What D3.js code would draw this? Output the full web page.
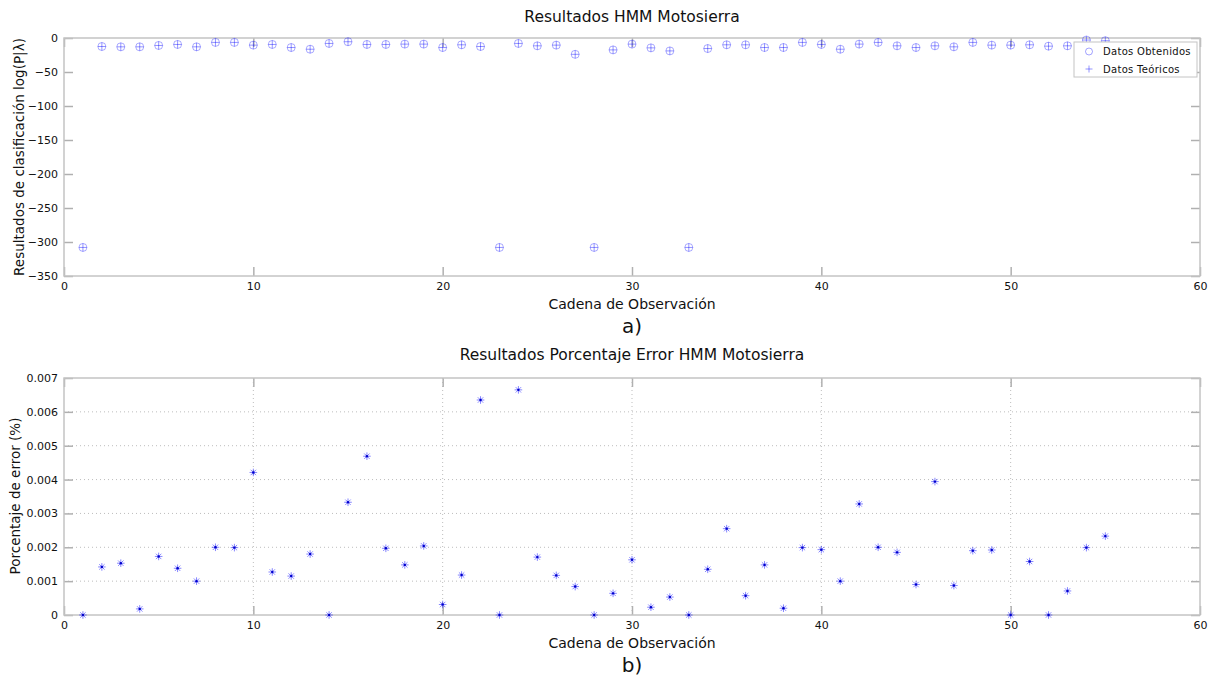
<!DOCTYPE html>
<html><head><meta charset="utf-8">
<script src="https://cdn.jsdelivr.net/npm/d3@7"></script>
<style>
body{margin:0;background:#fff;}
svg text{font-family:"DejaVu Sans",sans-serif;fill:#111;}
</style></head>
<body><svg id="c" width="1212" height="679"></svg>
<script>
// ---- data ----
const obs = d3.range(1, 56);
const logP = [-308,-12.5,-13,-13,-11,-9.5,-13,-6.5,-6.5,-10.5,-9.5,-14,-16.5,-8,-5.5,-9.5,-9.5,-9,-9,-14,-10,-12.5,-308,-8,-11.5,-10.5,-24,-308,-17.5,-9,-14.5,-19,-308,-15.5,-10,-10,-14,-14,-6.5,-9.5,-16.5,-9,-6.5,-11.5,-14,-11.5,-13,-6.5,-10.5,-10.5,-10,-12,-11.5,-3,-4];
const logPTeo = logP.slice();
const errPct = [0,0.00142,0.00153,0.00018,0.00173,0.00138,0.00100,0.00200,0.00199,0.00421,0.00127,0.00115,0.00180,0,0.00333,0.00469,0.00197,0.00148,0.00204,0.00031,0.00118,0.00635,0,0.00665,0.00171,0.00117,0.00084,0,0.00064,0.00163,0.00023,0.00053,0,0.00135,0.00255,0.00057,0.00148,0.00020,0.00199,0.00193,0.00100,0.00328,0.00200,0.00185,0.00090,0.00394,0.00087,0.00190,0.00192,0,0.00158,0,0.00071,0.00199,0.00233];
const xTicks = [0,10,20,30,40,50,60];
const yTicksA = [0,-50,-100,-150,-200,-250,-300,-350];
const yTicksB = [0,0.001,0.002,0.003,0.004,0.005,0.006,0.007];
const legendLabels = ["Datos Obtenidos","Datos Teóricos"];

const svg = d3.select("#c");
const L = 64, R = 1200;
const axisCol = "#c4c4c4";
const blue = "#0000ff";

function panel(top, bottom, yDomain, yTicks, grid, fmt) {
  const x = d3.scaleLinear().domain([0,60]).range([L,R]);
  const y = d3.scaleLinear().domain(yDomain).range([bottom, top]);
  const g = svg.append("g");
  if (grid) {
    g.selectAll(".gy").data(yTicks.slice(1,-1)).join("line")
      .attr("x1",L).attr("x2",R).attr("y1",d=>y(d)).attr("y2",d=>y(d))
      .attr("stroke","#bdbdbd").attr("stroke-width",1).attr("stroke-dasharray","1,3");
    g.selectAll(".gx").data(xTicks.slice(1,-1)).join("line")
      .attr("x1",d=>x(d)).attr("x2",d=>x(d)).attr("y1",top).attr("y2",bottom)
      .attr("stroke","#bdbdbd").attr("stroke-width",1).attr("stroke-dasharray","1,3");
  }
  const ts = -9;
  const ax = [
    g.append("g").attr("transform",`translate(0,${bottom})`).call(d3.axisBottom(x).tickValues(xTicks).tickSize(ts).tickPadding(6)),
    g.append("g").attr("transform",`translate(0,${top})`).call(d3.axisTop(x).tickValues(xTicks).tickSize(ts).tickFormat("")),
    g.append("g").attr("transform",`translate(${L},0)`).call(d3.axisLeft(y).tickValues(yTicks).tickSize(ts).tickPadding(6).tickFormat(fmt)),
    g.append("g").attr("transform",`translate(${R},0)`).call(d3.axisRight(y).tickValues(yTicks).tickSize(ts).tickFormat(""))
  ];
  ax.forEach(a => {
    a.select(".domain").remove();
    a.selectAll(".tick line").attr("stroke","#b0b0b0").attr("stroke-width",1.5);
    a.selectAll(".tick text").attr("font-size",11).attr("fill","#111").attr("font-family","DejaVu Sans");
  });
  g.append("rect").attr("x",L).attr("y",top).attr("width",R-L).attr("height",bottom-top)
    .attr("fill","none").attr("stroke",axisCol).attr("stroke-width",1.5);
  return {x, y, g};
}

// ---- panel a ----
const A = panel(38, 276, [-350,0], yTicksA, false, d3.format("d"));
A.g.selectAll(".circ").data(obs).join("circle")
  .attr("cx",d=>A.x(d)).attr("cy",(d,i)=>A.y(logP[i])).attr("r",4)
  .attr("fill","none").attr("stroke",blue).attr("stroke-width",0.6).attr("stroke-opacity",0.55);
A.g.selectAll(".plus").data(obs).join("path")
  .attr("d",(d,i)=>{const cx=A.x(d), cy=A.y(logPTeo[i]); return `M${cx-4},${cy}H${cx+4}M${cx},${cy-4}V${cy+4}`;})
  .attr("stroke",blue).attr("stroke-width",0.7).attr("stroke-opacity",0.6);

// legend
const lg = svg.append("g");
lg.append("rect").attr("x",1074).attr("y",42).attr("width",123).attr("height",35)
  .attr("fill","#fff").attr("stroke",axisCol).attr("stroke-width",1);
lg.append("circle").attr("cx",1089).attr("cy",51.5).attr("r",3.5).attr("fill","none").attr("stroke",blue).attr("stroke-width",0.6).attr("stroke-opacity",0.6);
lg.append("path").attr("d","M1085.5,69H1092.5M1089,65.5V72.5").attr("stroke",blue).attr("stroke-width",0.7).attr("stroke-opacity",0.6);
lg.selectAll("text").data(legendLabels).join("text")
  .attr("x",1103).attr("y",(d,i)=>55+i*18).attr("font-size",10).attr("letter-spacing",0.3).text(d=>d);

// titles panel a
svg.append("text").attr("x",632).attr("y",22).attr("text-anchor","middle").attr("font-size",15.5).text("Resultados HMM Motosierra");
svg.append("text").attr("transform","translate(24,157) rotate(-90)").attr("text-anchor","middle").attr("font-size",13.5).text("Resultados de clasificación log(P|λ)");
svg.append("text").attr("x",632).attr("y",309).attr("text-anchor","middle").attr("font-size",14).text("Cadena de Observación");
svg.append("text").attr("x",632).attr("y",333).attr("text-anchor","middle").attr("font-size",20).text("a)");

// ---- panel b ----
const B = panel(378, 615, [0,0.007], yTicksB, true, d=> d===0 ? "0" : d3.format(".3f")(d));
B.g.selectAll(".ast").data(obs).join("path")
  .attr("d",(d,i)=>{const cx=B.x(d), cy=B.y(errPct[i]); const r=3.8, q=2.7;
    return `M${cx-r},${cy}H${cx+r}M${cx},${cy-r}V${cy+r}M${cx-q},${cy-q}L${cx+q},${cy+q}M${cx-q},${cy+q}L${cx+q},${cy-q}`;})
  .attr("stroke",blue).attr("stroke-width",0.8).attr("stroke-opacity",0.6);
B.g.selectAll(".dot").data(obs).join("circle")
  .attr("cx",d=>B.x(d)).attr("cy",(d,i)=>B.y(errPct[i])).attr("r",1.2).attr("fill","#0000cc");

svg.append("text").attr("x",632).attr("y",360).attr("text-anchor","middle").attr("font-size",15.5).text("Resultados Porcentaje Error HMM Motosierra");
svg.append("text").attr("transform","translate(20,496) rotate(-90)").attr("text-anchor","middle").attr("font-size",13.5).text("Porcentaje de error (%)");
svg.append("text").attr("x",632).attr("y",648).attr("text-anchor","middle").attr("font-size",14).text("Cadena de Observación");
svg.append("text").attr("x",632).attr("y",672).attr("text-anchor","middle").attr("font-size",20).text("b)");
</script></body></html>
